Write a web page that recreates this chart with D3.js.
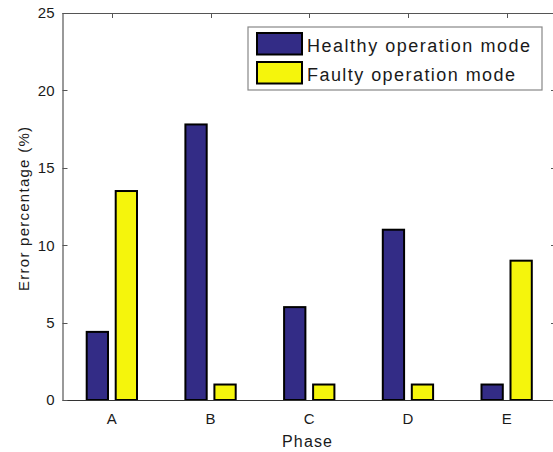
<!DOCTYPE html>
<html>
<head>
<meta charset="utf-8">
<script src="https://cdn.jsdelivr.net/npm/d3@7"></script>
<style>
  body { margin: 0; background: #fff; }
  text { font-family: Arial, "Liberation Sans", sans-serif; fill: #1a1a1a; }
</style>
</head>
<body>
<div id="chart"></div>
<script>
const phases = ['A', 'B', 'C', 'D', 'E'];
const seriesNames = ['Healthy operation mode', 'Faulty operation mode'];
const healthy = [4.4, 17.8, 6, 11, 1];
const faulty = [13.5, 1, 1, 1, 9];
const yTicks = [0, 5, 10, 15, 20, 25];
const colors = ['#332c86', '#f5f50c'];

const W = 553, H = 452;
const margin = { top: 13, right: -3, bottom: 52, left: 62.5 };

const svg = d3.select('#chart').append('svg')
  .attr('width', W).attr('height', H);

const x0 = d3.scaleBand()
  .domain(phases)
  .range([margin.left, W - margin.right])
  .padding(0);

const x1 = d3.scaleBand()
  .domain(seriesNames)
  .range([-26.15, 26.15])
  .paddingInner(0.197);

const y = d3.scaleLinear()
  .domain([0, 25])
  .range([H - margin.bottom, margin.top]);

const pLeft = margin.left, pRight = W - margin.right;
const pTop = margin.top, pBottom = H - margin.bottom;

/* ---------- bars ---------- */
const rows = phases.map((p, i) => ({ phase: p, values: [healthy[i], faulty[i]] }));

const groups = svg.append('g').selectAll('g')
  .data(rows)
  .join('g')
  .attr('transform', d => `translate(${x0(d.phase) + x0.bandwidth() / 2},0)`);

groups.selectAll('rect')
  .data(d => d.values.map((v, j) => ({ name: seriesNames[j], v, j })))
  .join('rect')
  .attr('x', d => x1(d.name) + 1)
  .attr('width', x1.bandwidth() - 2)
  .attr('y', d => y(d.v))
  .attr('height', d => y(0) - y(d.v))
  .attr('fill', d => colors[d.j])
  .attr('stroke', '#000')
  .attr('stroke-width', 2);

/* ---------- axes box ---------- */
const axisColor = '#555';
svg.append('line').attr('x1', pLeft).attr('x2', pRight).attr('y1', pTop + 0.5).attr('y2', pTop + 0.5)
  .attr('stroke', axisColor);
svg.append('line').attr('x1', pLeft).attr('x2', pRight).attr('y1', pBottom + 0.5).attr('y2', pBottom + 0.5)
  .attr('stroke', '#333');
svg.append('line').attr('x1', pLeft + 0.5).attr('x2', pLeft + 0.5).attr('y1', pTop).attr('y2', pBottom)
  .attr('stroke', '#777').attr('stroke-width', 1.5);

// y ticks (inward both sides)
const yt = svg.append('g');
yTicks.forEach(t => {
  const yy = Math.round(y(t)) + 0.5;
  yt.append('line').attr('x1', pLeft).attr('x2', pLeft + 5).attr('y1', yy).attr('y2', yy).attr('stroke', axisColor);
  yt.append('line').attr('x1', pRight - 5).attr('x2', pRight).attr('y1', yy).attr('y2', yy).attr('stroke', axisColor);
  yt.append('text')
    .attr('x', pLeft - 8).attr('y', y(t))
    .attr('dy', '0.36em')
    .attr('text-anchor', 'end')
    .style('font-size', '15px')
    .text(t);
});

// x ticks on top + labels
const xt = svg.append('g');
phases.forEach(p => {
  const xx = Math.round(x0(p) + x0.bandwidth() / 2) + 0.5;
  xt.append('line').attr('x1', xx).attr('x2', xx).attr('y1', pTop).attr('y2', pTop + 5).attr('stroke', axisColor);
  xt.append('text')
    .attr('x', x0(p) + x0.bandwidth() / 2).attr('y', 424)
    .attr('text-anchor', 'middle')
    .style('font-size', '15px')
    .text(p);
});

/* ---------- axis labels ---------- */
svg.append('text')
  .attr('x', 307).attr('y', 447)
  .attr('text-anchor', 'middle')
  .style('font-size', '16px')
  .attr('textLength', 50)
  .text('Phase');

svg.append('text')
  .attr('transform', 'translate(29,209) rotate(-90)')
  .attr('text-anchor', 'middle')
  .style('font-size', '15px')
  .attr('textLength', 164)
  .text('Error percentage (%)');

/* ---------- legend ---------- */
const lg = svg.append('g');
lg.append('rect')
  .attr('x', 248).attr('y', 27).attr('width', 294).attr('height', 63)
  .attr('fill', '#fff').attr('stroke', '#888').attr('stroke-width', 1.2);

const legendRows = [
  { y: 32, len: 223 },
  { y: 61, len: 208 }
];
seriesNames.forEach((name, j) => {
  lg.append('rect')
    .attr('x', 257).attr('y', legendRows[j].y + 1)
    .attr('width', 45).attr('height', 21.5)
    .attr('fill', colors[j]).attr('stroke', '#000').attr('stroke-width', 2);
  lg.append('text')
    .attr('x', 307).attr('y', legendRows[j].y + 20)
    .style('font-size', '18px')
    .attr('textLength', legendRows[j].len)
    .text(name);
});
</script>
</body>
</html>
